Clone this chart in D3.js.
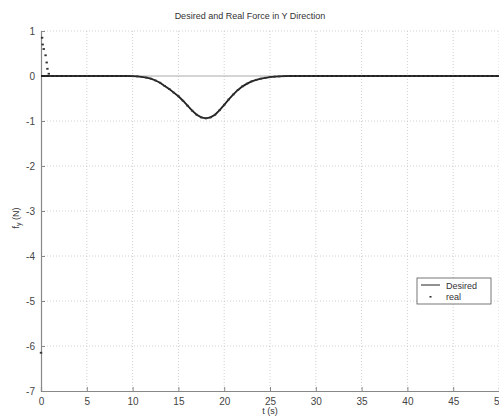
<!DOCTYPE html>
<html><head><meta charset="utf-8">
<script src="https://cdn.jsdelivr.net/npm/d3@7"></script>
<style>body{margin:0;background:#fff}svg{display:block}text{font-family:"Liberation Sans",Arial,sans-serif}</style>
</head><body><svg id="c" width="499" height="417"></svg>
<script>
const xTicks = [0,5,10,15,20,25,30,35,40,45,50];
const yTicks = [1,0,-1,-2,-3,-4,-5,-6,-7];
const desiredT = [0,0.5,1,1.5,2,2.5,3,3.5,4,4.5,5,5.5,6,6.5,7,7.5,8,8.5,9,9.5,
 10,10.5,11,11.5,12,12.5,13,13.5,14,14.5,15,15.5,16,16.5,17,17.5,18,18.5,19,19.5,20,20.5,21,21.5,22,22.5,23,23.5,24,24.5,25,25.5,26,26.5,
 27,27.5,28,28.5,29,29.5,30,30.5,31,31.5,32,32.5,33,33.5,34,34.5,35,35.5,36,36.5,37,37.5,38,38.5,39,39.5,40,40.5,41,41.5,42,42.5,43,43.5,44,44.5,45,45.5,46,46.5,47,47.5,48,48.5,49,49.5,50];
const desiredY = [0,0,0,0,0,0,0,0,0,0,0,0,0,0,0,0,0,0,0,0,
 -0.005,-0.01,-0.02,-0.035,-0.06,-0.10,-0.15,-0.22,-0.29,-0.37,-0.45,-0.55,-0.66,-0.77,-0.86,-0.92,-0.94,-0.92,-0.86,-0.76,-0.64,-0.52,-0.41,-0.31,-0.23,-0.17,-0.12,-0.085,-0.06,-0.04,-0.025,-0.015,-0.01,-0.005,
 0,0,0,0,0,0,0,0,0,0,0,0,0,0,0,0,0,0,0,0,0,0,0,0,0,0,0,0,0,0,0,0,0,0,0,0,0,0,0,0,0,0,0,0,0,0,0];
const realT = [0,0.12,0.18,0.3,0.5,0.62,0.7,0.85,1.0,
 1.5,2,2.5,3,3.5,4,4.5,5,5.5,6,6.5,7,7.5,8,8.5,9,9.5,
 10,10.5,11,11.5,12,12.5,13,13.5,14,14.5,15,15.5,16,16.5,17,17.5,18,18.5,19,19.5,20,20.5,21,21.5,22,22.5,23,23.5,24,24.5,25,25.5,26,26.5,
 27,27.5,28,28.5,29,29.5,30,30.5,31,31.5,32,32.5,33,33.5,34,34.5,35,35.5,36,36.5,37,37.5,38,38.5,39,39.5,40,40.5,41,41.5,42,42.5,43,43.5,44,44.5,45,45.5,46,46.5,47,47.5,48,48.5,49,49.5,50];
const realY = [-6.15,0.85,0.7,0.6,0.46,0.3,0.16,0.05,0.0,
 0,0,0,0,0,0,0,0,0,0,0,0,0,0,0,0,0,
 -0.005,-0.01,-0.02,-0.035,-0.06,-0.10,-0.15,-0.22,-0.29,-0.37,-0.45,-0.55,-0.66,-0.77,-0.86,-0.92,-0.94,-0.92,-0.86,-0.76,-0.64,-0.52,-0.41,-0.31,-0.23,-0.17,-0.12,-0.085,-0.06,-0.04,-0.025,-0.015,-0.01,-0.005,
 0,0,0,0,0,0,0,0,0,0,0,0,0,0,0,0,0,0,0,0,0,0,0,0,0,0,0,0,0,0,0,0,0,0,0,0,0,0,0,0,0,0,0,0,0,0,0];

const svg = d3.select("#c");
const L = 41, R = 499, T = 31, B = 391;
const x = d3.scaleLinear().domain([0,50]).range([L,R]);
const y = d3.scaleLinear().domain([-7,1]).range([B,T]);

// grid
const g = svg.append("g");
g.selectAll(".vg").data(xTicks.filter(d=>d>0)).join("line")
 .attr("x1",d=>x(d)).attr("x2",d=>x(d)).attr("y1",T).attr("y2",B)
 .attr("stroke","#c4c4c4").attr("stroke-width",0.8).attr("stroke-dasharray","1,2");
g.selectAll(".hg").data(yTicks.filter(d=>d>-7 && d!==0)).join("line")
 .attr("x1",L).attr("x2",R).attr("y1",d=>y(d)).attr("y2",d=>y(d))
 .attr("stroke","#c4c4c4").attr("stroke-width",0.8).attr("stroke-dasharray","1,2");
g.append("line").attr("x1",L).attr("x2",R).attr("y1",y(0)).attr("y2",y(0))
 .attr("stroke","#aaa").attr("stroke-width",1);

// axes
const fmt = d => String(d);
const xAxis = d3.axisBottom(x).tickValues(xTicks).tickSize(-4).tickPadding(7).tickFormat(fmt);
const yAxis = d3.axisLeft(y).tickValues(yTicks).tickSize(-4).tickPadding(6).tickFormat(fmt);
const ax = svg.append("g").attr("transform",`translate(0,${B})`).call(xAxis);
const ay = svg.append("g").attr("transform",`translate(${L},0)`).call(yAxis);
[ax,ay].forEach(a=>{
  a.select(".domain").attr("stroke","#888").attr("stroke-width",1.2);
  a.selectAll(".tick line").attr("stroke","#888");
  a.selectAll("text").attr("fill","#444").style("font-size","10px").style("font-family","Liberation Sans, Arial, sans-serif");
});

// desired line
svg.append("path").datum(desiredT.map((t,i)=>[t,desiredY[i]]))
 .attr("fill","none").attr("stroke","#222").attr("stroke-width",1.8)
 .attr("d", d3.line().x(d=>x(d[0])).y(d=>y(d[1])));

// real points
svg.append("g").selectAll("rect").data(realT.map((t,i)=>[t,realY[i]])).join("rect")
 .attr("x",d=>x(d[0])-1.2).attr("y",d=>y(d[1])-0.9).attr("width",2.4).attr("height",1.8)
 .attr("fill","#333");

// title
svg.append("text").attr("x",250).attr("y",19).attr("text-anchor","middle")
 .attr("fill","#333").style("font-size","9px").text("Desired and Real Force in Y Direction");
// x label
svg.append("text").attr("x",270).attr("y",414).attr("text-anchor","middle")
 .attr("fill","#333").style("font-size","9px").text("t (s)");
// y label
const yl = svg.append("text").attr("transform","translate(19,218) rotate(-90)").attr("text-anchor","middle")
 .attr("fill","#333").style("font-size","9px");
yl.append("tspan").text("f");
yl.append("tspan").attr("dy",2).style("font-size","7px").text("y");
yl.append("tspan").attr("dy",-2).text(" (N)");

// legend
const lg = svg.append("g").attr("transform","translate(417,278)");
lg.append("rect").attr("width",74).attr("height",26).attr("fill","#fff").attr("stroke","#555").attr("stroke-width",0.8);
lg.append("line").attr("x1",4).attr("x2",23).attr("y1",7).attr("y2",7).attr("stroke","#222").attr("stroke-width",1);
lg.append("rect").attr("x",12.5).attr("y",18).attr("width",2).attr("height",1.6).attr("fill","#333");
lg.append("text").attr("x",29).attr("y",10.5).attr("fill","#333").style("font-size","9px").text("Desired");
lg.append("text").attr("x",29).attr("y",22).attr("fill","#333").style("font-size","9px").text("real");
</script></body></html>
